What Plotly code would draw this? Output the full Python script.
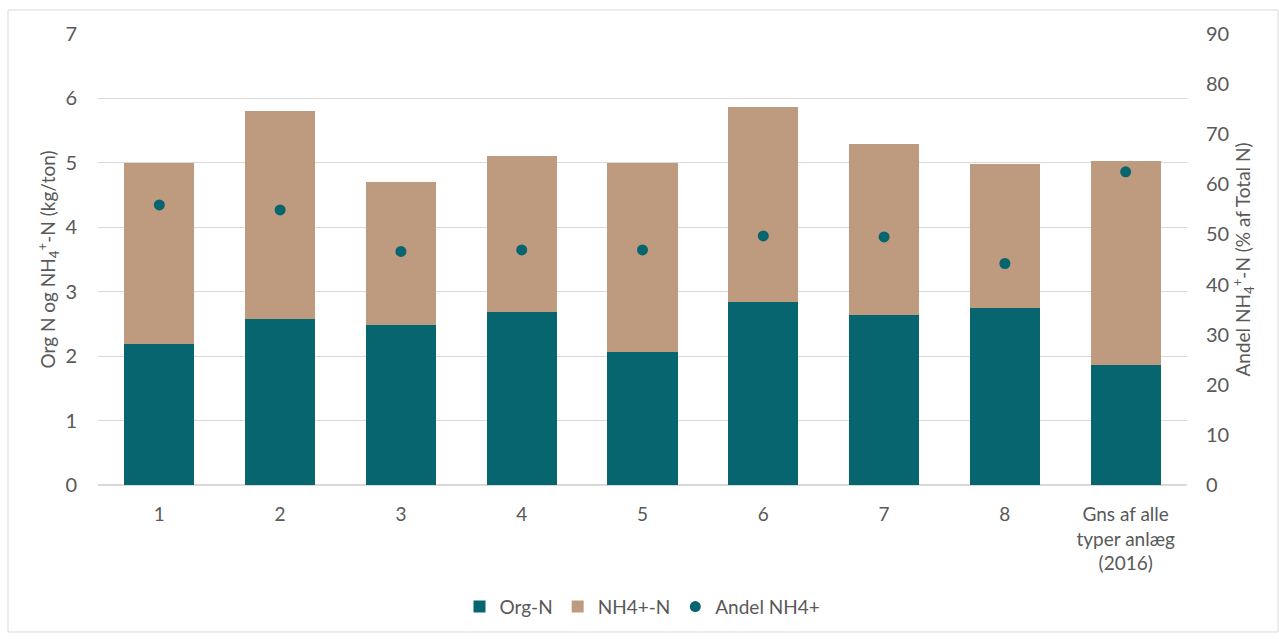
import plotly.graph_objects as go

# Data
categories = ["1", "2", "3", "4", "5", "6", "7", "8", "Gns af alle<br>typer anlæg<br>(2016)"]
org_n = [2.19, 2.58, 2.48, 2.68, 2.06, 2.84, 2.64, 2.75, 1.86]
nh4_n = [2.81, 3.22, 2.23, 2.42, 2.94, 3.02, 2.66, 2.24, 3.17]
andel_nh4 = [55.9, 54.9, 46.6, 46.9, 46.9, 49.7, 49.5, 44.2, 62.5]

TEAL = "#076570"
TAN = "#BE9A7F"
TEXT = "#595959"
FONT = "Lato"

fig = go.Figure()
fig.add_trace(go.Bar(x=categories, y=org_n, name="Org-N", marker_color=TEAL,
                     marker_line_width=0))
fig.add_trace(go.Bar(x=categories, y=nh4_n, name="NH4+-N", marker_color=TAN,
                     marker_line_width=0))
fig.add_trace(go.Scatter(x=categories, y=andel_nh4, name="Andel NH4+", mode="markers",
                         marker=dict(color=TEAL, size=11), yaxis="y2"))

fig.update_layout(
    width=1279, height=639,
    barmode="stack", bargap=0.42,
    paper_bgcolor="white", plot_bgcolor="white",
    font=dict(family=FONT, color=TEXT, size=19),
    margin=dict(l=98, r=92, t=34, b=154),
    xaxis=dict(showgrid=False, showline=False, ticks="", ticklabelstandoff=16,
               tickfont=dict(size=19, color=TEXT)),
    yaxis=dict(range=[0, 7], dtick=1, showgrid=True, gridcolor="#D9D9D9", gridwidth=1,
               zeroline=True, zerolinecolor="#D9D9D9", showline=False,
               ticks="", ticklabelstandoff=20, tickfont=dict(size=20, color=TEXT),
               title=dict(text="Org N og NH<sub>4</sub><sup>+</sup>-N (kg/ton)",
                          font=dict(size=19, color=TEXT), standoff=4)),
    yaxis2=dict(range=[0, 90], dtick=10, overlaying="y", side="right", showgrid=False,
                zeroline=False, showline=False, ticks="", ticklabelstandoff=18,
                tickfont=dict(size=20, color=TEXT),
                title=dict(text="Andel NH<sub>4</sub><sup>+</sup>-N (% af Total N)",
                           font=dict(size=19, color=TEXT), standoff=4)),
    legend=dict(orientation="h", x=0.5, xanchor="center", y=-0.27, yanchor="middle",
                font=dict(size=19, color=TEXT), traceorder="normal", itemwidth=30),
    showlegend=True,
)

# Chart-area border
fig.add_shape(type="rect", xref="paper", yref="paper",
              x0=-90 / 1089, x1=1180 / 1089, y0=-147 / 451, y1=1 + 24 / 451,
              line=dict(color="#D9D9D9", width=1), fillcolor="rgba(0,0,0,0)", layer="below")

fig.write_html("out.html")
